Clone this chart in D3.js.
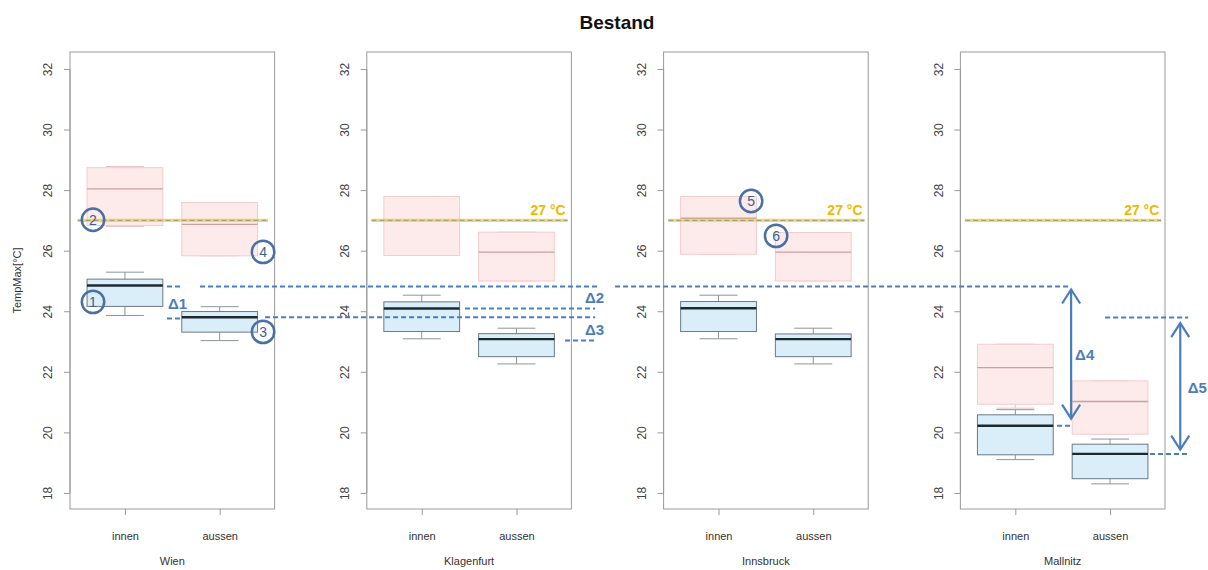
<!DOCTYPE html>
<html><head><meta charset="utf-8">
<script src="https://cdn.jsdelivr.net/npm/d3@7"></script>
<style>body{margin:0;background:#fff}svg{display:block}text{font-family:"Liberation Sans",Arial,sans-serif}</style>
</head><body><svg id="c" width="1208" height="570"></svg>
<script>
const title = "Bestand";
const stations = ["Wien","Klagenfurt","Innsbruck","Mallnitz"];
const groups = ["innen","aussen"];
const yTicks = [18,20,22,24,26,28,30,32];
// [whiskerLow, q1, median, q3, whiskerHigh]
const redStats = [
  [[26.80,26.83,28.04,28.74,28.78],[25.83,25.83,26.87,27.59,27.59]],
  [[25.84,25.84,27.00,27.79,27.79],[25.00,25.00,25.95,26.61,26.61]],
  [[25.88,25.88,27.07,27.79,27.79],[25.00,25.00,25.95,26.60,26.60]],
  [[20.80,20.93,22.14,22.91,22.91],[19.94,19.94,21.02,21.70,21.70]]
];
const blueStats = [
  [[23.86,24.16,24.85,25.06,25.29],[23.03,23.31,23.80,23.99,24.15]],
  [[23.09,23.33,24.09,24.31,24.53],[22.26,22.50,23.08,23.26,23.44]],
  [[23.09,23.33,24.10,24.32,24.53],[22.26,22.50,23.08,23.25,23.44]],
  [[19.10,19.26,20.22,20.58,20.75],[18.30,18.47,19.29,19.61,19.78]]
];
const threshold = 27;
const thresholdLabel = "27 °C";
// annotation lines in global slot units: [x1, x2, value]
const deltaLines = [
  [1.444,1.581,24.82],[1.792,5.984,24.82],[6.174,10.977,24.82],
  [1.444,1.581,23.76],[2.479,5.963,23.80],[11.347,12.223,23.79],
  [4.59,5.963,24.09],[5.646,5.963,23.03],
  [10.84,10.977,20.22],[11.82,12.21,19.29]
];
const arrows = [[10.988,24.75,20.42],[12.14,23.64,19.40]];
const deltaLabels = [["Δ1",1.455,24.08],["Δ2",5.857,24.28],["Δ3",5.857,23.22],["Δ4",11.03,22.40],["Δ5",12.22,21.31]];
const circles = [["1",0.663,24.31],["2",0.663,27.02],["3",2.458,23.32],["4",2.458,25.96],["5",7.61,27.64],["6",7.874,26.49]];
const panelOffset = 3.133;

const svg = d3.select("#c");
const plotTop=52, plotBottom=509;
const y = d3.scaleLinear().domain([17.47,32.56]).range([plotBottom,plotTop]);
const gx = d3.scaleLinear().domain([0.42, 0.42+3*panelOffset+2.16]).range([70,1165]);

svg.append("text").attr("x",617).attr("y",29).attr("text-anchor","middle")
  .attr("font-weight","bold").attr("font-size",19).attr("fill","#111").text(title);

const blueC="#4a7ebb";

stations.forEach((st,i)=>{
  const off=i*panelOffset;
  const x=d3.scaleLinear().domain([0.42,2.58]).range([gx(0.42+off),gx(2.58+off)]);
  const g=svg.append("g");
  g.append("rect").attr("x",x(0.42)).attr("y",plotTop).attr("width",x(2.58)-x(0.42)).attr("height",plotBottom-plotTop)
    .attr("fill","none").attr("stroke","#9a9a9a").attr("stroke-width",1);
  const ya=g.append("g").attr("transform",`translate(${x(0.42)},0)`)
    .call(d3.axisLeft(y).tickValues(yTicks).tickSize(6).tickFormat(d3.format("d")));
  ya.select(".domain").attr("stroke","#9a9a9a").attr("d",`M0,${y(18)}V${y(32)}`);
  ya.selectAll(".tick line").attr("stroke","#9a9a9a");
  ya.selectAll(".tick text").attr("font-size",12).attr("fill","#444")
    .attr("x",0).attr("y",0).attr("dy","0.35em").attr("text-anchor","middle")
    .attr("transform","translate(-22,0) rotate(-90)");
  const xa=g.append("g").attr("transform",`translate(0,${plotBottom})`)
    .call(d3.axisBottom(x).tickValues([1,2]).tickSize(6).tickPadding(17).tickFormat((d,k)=>groups[k]));
  xa.select(".domain").remove();
  xa.selectAll(".tick line").attr("stroke","#9a9a9a");
  xa.selectAll(".tick text").attr("font-size",11).attr("fill","#333");
  g.append("text").attr("x",(x(0.42)+x(2.58))/2).attr("y",565).attr("text-anchor","middle")
    .attr("font-size",11).attr("fill","#333").text(st);

  const bw=0.8, cw=0.4;
  function drawBox(s,k,fill,stroke,medC,medW,whC){
    const cx=k+1;
    g.append("line").attr("x1",x(cx)).attr("x2",x(cx)).attr("y1",y(s[3])).attr("y2",y(s[4])).attr("stroke",whC);
    g.append("line").attr("x1",x(cx)).attr("x2",x(cx)).attr("y1",y(s[0])).attr("y2",y(s[1])).attr("stroke",whC);
    [s[0],s[4]].forEach(v=>g.append("line").attr("x1",x(cx-cw/2)).attr("x2",x(cx+cw/2)).attr("y1",y(v)).attr("y2",y(v)).attr("stroke",whC));
    g.append("rect").attr("x",x(cx-bw/2)).attr("width",x(cx+bw/2)-x(cx-bw/2))
      .attr("y",y(s[3])).attr("height",y(s[1])-y(s[3])).attr("fill",fill).attr("stroke",stroke);
    g.append("line").attr("x1",x(cx-bw/2)).attr("x2",x(cx+bw/2)).attr("y1",y(s[2])).attr("y2",y(s[2])).attr("stroke",medC).attr("stroke-width",medW);
  }
  redStats[i].forEach((s,k)=>drawBox(s,k,"#fdeaea","#f3cccc","#caa0a0",1.3,"#e8c4c4"));
  blueStats[i].forEach((s,k)=>drawBox(s,k,"#daeefa","#6a7a85","#1c2a30",2.4,"#8a959c"));

  const tx1 = i===0 ? 0.5 : 0.47, tx2 = i===0 ? 2.51 : 2.54;
  g.append("line").attr("x1",x(tx1)).attr("x2",x(tx2)).attr("y1",y(threshold)).attr("y2",y(threshold))
    .attr("stroke","#f7d840").attr("stroke-width",3.4).attr("opacity",0.9);
  g.append("line").attr("x1",x(tx1)).attr("x2",x(tx2)).attr("y1",y(threshold)).attr("y2",y(threshold))
    .attr("stroke","#a0a090").attr("stroke-width",1.2).attr("stroke-dasharray","5,3");
  if(i>0){
    g.append("text").attr("x",x(2.52)).attr("y",y(27.18)).attr("text-anchor","end")
      .attr("font-size",14).attr("font-weight","bold").attr("fill","#f2b700").text(thresholdLabel);
  }
});
svg.append("text").attr("transform",`translate(21,${(plotTop+plotBottom)/2}) rotate(-90)`)
  .attr("text-anchor","middle").attr("font-size",11).attr("fill","#333").text("TempMax[°C]");

deltaLines.forEach(d=>{
  svg.append("line").attr("x1",gx(d[0])).attr("x2",gx(d[1])).attr("y1",y(d[2])).attr("y2",y(d[2]))
    .attr("stroke",blueC).attr("stroke-width",2).attr("stroke-dasharray","5,3");
});
arrows.forEach(a=>{
  const X=gx(a[0]), y1=y(a[1]), y2=y(a[2]);
  svg.append("line").attr("x1",X).attr("x2",X).attr("y1",y1+1).attr("y2",y2-1).attr("stroke",blueC).attr("stroke-width",2.2);
  svg.append("path").attr("d",`M${X-9},${y1+15}L${X},${y1+1}L${X+9},${y1+15}`).attr("fill","none").attr("stroke",blueC).attr("stroke-width",2.2);
  svg.append("path").attr("d",`M${X-9},${y2-15}L${X},${y2-1}L${X+9},${y2-15}`).attr("fill","none").attr("stroke",blueC).attr("stroke-width",2.2);
});
deltaLabels.forEach(d=>{
  svg.append("text").attr("x",gx(d[1])).attr("y",y(d[2])).attr("font-size",15).attr("font-weight","bold")
    .attr("fill",blueC).text(d[0]);
});
circles.forEach(c=>{
  svg.append("circle").attr("cx",gx(c[1])).attr("cy",y(c[2])).attr("r",11.2).attr("fill","none")
    .attr("stroke","#4a6fa5").attr("stroke-width",2.5);
  svg.append("text").attr("x",gx(c[1])).attr("y",y(c[2])+5).attr("text-anchor","middle")
    .attr("font-size",14).attr("fill","#3f5f8f").text(c[0]);
});
</script></body></html>
